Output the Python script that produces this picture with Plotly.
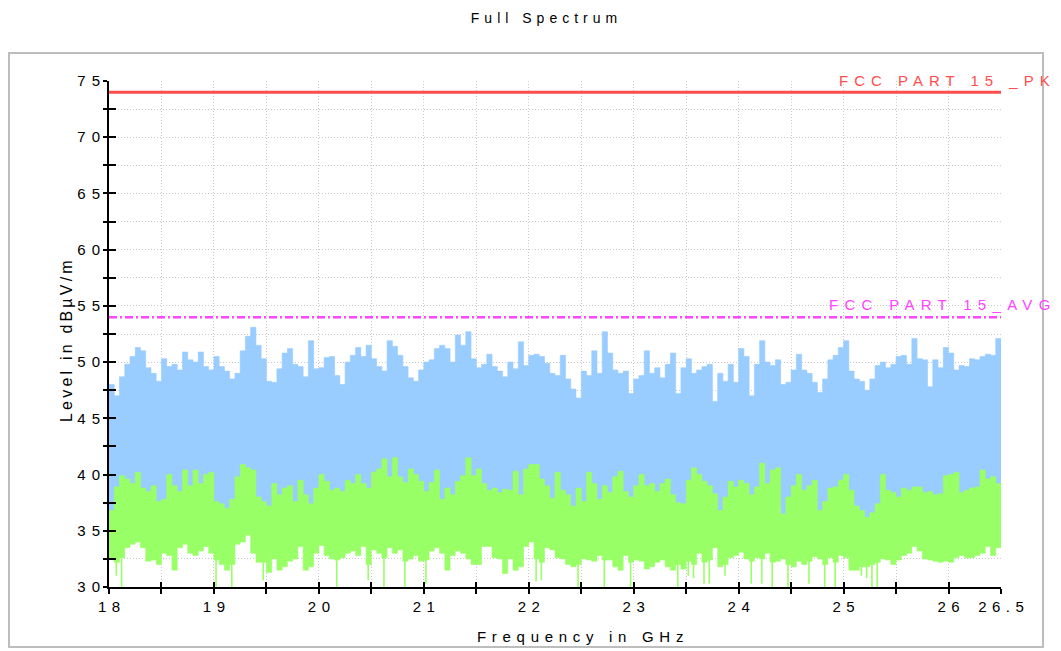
import plotly.graph_objects as go

# ---------------- data ----------------
f_start = 18.0      # GHz
f_stop = 26.5       # GHz
bin_step = 0.05     # GHz per trace sample (read-off resolution)

pk_limit = 74.0
avg_limit = 54.0
pk_label = "FCC PART 15 _PK"
avg_label = "FCC PART 15_AVG"
title_text = "Full Spectrum"
x_title = "Frequency in GHz"
y_title = "Level in dBµV/m"

x_tick_vals = [18, 19, 20, 21, 22, 23, 24, 25, 26, 26.5]
x_tick_text = ["18", "19", "20", "21", "22", "23", "24", "25", "26", "26.5"]
y_tick_vals = [30, 35, 40, 45, 50, 55, 60, 65, 70, 75]
y_tick_text = ["30", "35", "40", "45", "50", "55", "60", "65", "70", "75"]

# peak detector trace (blue) - upper envelope per bin, dBuV/m
blue_hi = [
    48.0, 47.0, 48.7, 49.8, 50.5, 51.3, 51.0, 49.5, 49.0, 48.3,
    50.3, 49.6, 49.8, 49.3, 50.9, 50.2, 50.0, 50.9, 49.6, 49.3,
    50.5, 49.6, 49.2, 48.5, 49.0, 51.0, 52.3, 53.1, 51.5, 50.3,
    48.3, 48.2, 49.4, 50.8, 51.2, 49.8, 49.6, 48.7, 51.9, 49.4,
    49.5, 50.4, 50.5, 48.8, 48.0, 50.0, 50.6, 51.3, 50.5, 51.5,
    50.3, 49.6, 49.2, 51.9, 51.4, 50.6, 49.6, 48.6, 48.3, 49.3,
    50.0, 50.2, 51.2, 51.5, 51.2, 50.0, 52.4, 51.5, 52.7, 50.3,
    49.5, 49.8, 50.7, 49.6, 49.2, 48.7, 50.0, 49.4, 51.8, 49.7,
    50.6, 50.7, 50.5, 49.9, 49.0, 48.8, 50.6, 48.5, 47.6, 46.8,
    49.2, 48.8, 51.0, 49.0, 52.7, 50.8, 49.3, 49.0, 49.2, 47.2,
    48.5, 48.8, 51.0, 49.0, 49.5, 48.6, 49.8, 50.8, 47.2, 49.5,
    50.3, 49.0, 49.3, 49.6, 49.8, 46.5, 49.0, 48.3, 49.8, 48.2,
    51.2, 50.5, 47.0, 49.8, 51.9, 50.0, 49.7, 50.2, 48.0, 48.2,
    49.3, 50.7, 49.3, 49.0, 48.2, 47.3, 48.5, 50.2, 50.6, 51.3,
    51.9, 49.2, 48.5, 48.3, 47.5, 48.5, 49.7, 50.0, 49.5, 49.8,
    50.5, 50.6, 49.8, 52.1, 50.3, 50.2, 47.8, 50.2, 49.5, 51.3,
    50.8, 49.3, 49.7, 49.6, 50.3, 50.2, 50.5, 50.7, 50.6, 52.1,
]
# peak detector trace (blue) - lower envelope per bin
blue_lo = [
    36.5, 36.8, 37.0, 36.6, 37.2, 37.0, 36.8, 36.5, 36.9, 36.4,
    36.8, 37.0, 36.6, 36.8, 37.2, 36.9, 37.0, 36.7, 37.1, 36.8,
    36.5, 36.4, 36.0, 35.5, 36.8, 37.2, 37.0, 36.9, 36.6, 36.3,
    36.2, 36.8, 36.5, 36.7, 36.9, 36.4, 37.0, 36.6, 36.3, 36.8,
    37.0, 36.9, 36.6, 36.5, 36.7, 37.0, 36.8, 37.0, 36.9, 36.5,
    37.1, 36.2, 36.8, 37.0, 37.2, 36.9, 37.0, 37.1, 36.8, 36.7,
    36.6, 36.9, 37.0, 36.5, 36.7, 36.6, 36.9, 37.0, 37.2, 36.8,
    37.0, 36.9, 36.7, 36.6, 36.5, 36.6, 36.7, 36.8, 36.4, 37.0,
    37.2, 36.5, 36.8, 36.9, 36.3, 36.9, 36.6, 36.5, 36.2, 36.6,
    36.4, 36.9, 36.8, 36.3, 36.6, 36.5, 36.8, 37.0, 36.6, 36.0,
    36.7, 36.9, 36.7, 36.8, 36.6, 36.8, 36.9, 36.5, 36.0, 36.2,
    36.8, 37.0, 36.9, 36.4, 36.5, 36.2, 35.8, 36.4, 36.8, 36.7,
    36.9, 36.8, 36.3, 36.7, 37.0, 36.8, 36.9, 37.0, 35.8, 36.4,
    36.7, 36.9, 36.6, 36.7, 36.8, 35.8, 36.2, 36.6, 36.7, 36.9,
    37.0, 36.6, 36.2, 35.8, 35.6, 35.8, 36.2, 36.9, 36.6, 36.5,
    36.4, 36.7, 36.6, 36.8, 36.8, 36.5, 36.6, 36.4, 36.5, 36.9,
    37.0, 37.0, 36.6, 36.6, 36.7, 36.8, 37.0, 36.9, 36.9, 36.8,
]
# average detector trace (green) - upper envelope per bin
green_hi = [
    36.8, 38.9, 39.9, 39.6, 39.2, 40.2, 38.8, 38.5, 39.0, 37.6,
    37.8, 40.0, 39.0, 38.5, 40.4, 39.0, 40.4, 39.2, 40.0, 40.2,
    37.6, 37.4, 37.0, 37.8, 39.8, 40.9, 40.6, 40.4, 38.0, 37.6,
    37.2, 39.2, 38.2, 38.8, 39.0, 37.6, 39.5, 38.2, 37.4, 38.8,
    40.0, 39.4, 38.6, 38.8, 38.5, 39.5, 39.2, 40.0, 39.2, 38.8,
    40.2, 40.5, 41.4, 39.8, 41.5, 39.8, 39.3, 40.5, 40.0, 39.4,
    38.5, 39.3, 40.4, 37.8, 38.8, 38.2, 39.4, 39.9, 41.5, 39.9,
    40.5, 39.2, 38.6, 38.8, 38.4, 38.7, 38.6, 40.3, 38.2, 40.5,
    40.9, 40.9, 39.6, 39.0, 37.9, 40.2, 38.6, 38.2, 37.2, 38.8,
    37.6, 40.2, 39.2, 37.8, 39.0, 38.4, 39.8, 40.3, 38.5, 38.0,
    39.0, 40.0, 39.0, 39.2, 38.5, 39.2, 39.6, 38.2, 37.5, 37.4,
    39.5, 40.6, 40.0, 39.4, 39.0, 38.3, 36.8, 38.0, 39.4, 38.9,
    39.5, 39.2, 38.2, 38.9, 41.0, 39.2, 40.4, 40.6, 36.5, 38.0,
    39.0, 40.0, 38.6, 39.0, 39.5, 36.8, 37.6, 38.8, 38.9, 39.5,
    40.0, 38.6, 37.2, 36.8, 36.2, 36.6, 37.4, 40.0, 38.6, 38.4,
    38.0, 38.8, 38.6, 38.9, 38.9, 38.4, 38.5, 38.2, 38.3, 39.9,
    40.0, 40.2, 38.4, 38.6, 38.8, 38.9, 40.4, 39.6, 39.8, 39.2,
]
# average detector trace (green) - lower edge of the dense band per bin
green_lo = [
    32.5, 32.2, 32.6, 33.5, 33.8, 34.0, 33.5, 32.3, 32.4, 32.0,
    33.0, 32.8, 31.5, 33.5, 33.8, 33.0, 32.8, 33.2, 33.6, 33.0,
    32.4, 32.0, 31.5, 32.0, 33.8, 34.0, 34.6, 33.0, 32.2, 32.2,
    31.3, 32.5, 31.5, 31.8, 32.3, 32.5, 33.6, 31.5, 31.8, 33.0,
    33.7, 32.8, 32.5, 32.4, 32.6, 33.0, 33.2, 32.8, 33.6, 32.0,
    33.3, 33.0, 32.6, 33.5, 33.0, 33.3, 32.3, 32.5, 32.8, 32.3,
    32.4, 33.2, 33.5, 33.0, 31.5, 32.8, 33.2, 33.0, 32.5, 32.0,
    32.0, 33.6, 33.6, 32.6, 32.5, 31.2, 32.5, 31.5, 31.8, 33.6,
    34.0, 32.5, 32.2, 33.5, 33.3, 32.6, 32.5, 32.0, 31.8, 32.0,
    32.5, 32.4, 32.3, 32.8, 32.4, 32.4, 31.8, 31.5, 32.8, 32.2,
    32.4, 32.3, 31.6, 31.8, 32.2, 32.4, 31.8, 31.5, 32.0, 31.6,
    32.3, 32.0, 33.0, 32.2, 32.4, 33.5, 31.8, 32.0, 32.6, 32.8,
    33.1, 32.5, 32.3, 32.6, 32.5, 33.0, 32.2, 32.3, 32.5, 32.0,
    31.8, 32.3, 32.0, 32.3, 32.7, 32.5, 32.0, 32.6, 32.2, 32.8,
    32.6, 31.5, 31.5, 31.8, 31.8, 32.0, 32.2, 32.5, 32.4, 32.0,
    32.4, 32.8, 33.0, 33.6, 33.2, 32.5, 32.4, 32.3, 32.2, 32.3,
    32.2, 32.6, 32.8, 32.6, 32.6, 32.8, 33.0, 33.6, 32.8, 33.5,
]
# narrow downward spikes of the green trace (frequency GHz, level dBuV/m)
green_spike_f = [18.07, 18.12, 19.02, 19.17, 19.47, 20.17, 20.47, 20.62, 20.82, 21.02,
                 22.07, 22.12, 22.47, 22.72, 22.97, 23.42, 23.52, 23.57, 23.67, 23.72,
                 23.87, 24.12, 24.22, 24.32, 24.47, 24.67, 24.82, 24.92, 25.17, 25.22,
                 25.27, 25.32]
green_spike_lo = [31.0, 30.0, 30.0, 30.0, 30.6, 30.0, 30.6, 30.0, 30.0, 30.3,
                  30.5, 30.6, 30.0, 30.0, 30.0, 30.0, 31.0, 30.8, 30.3, 30.3,
                  31.0, 30.3, 30.3, 30.0, 30.0, 30.3, 30.0, 30.0, 31.0, 30.8,
                  30.0, 30.0]

# ---------------- styling ----------------
BLUE = "#99ccff"
GREEN = "#99ff66"
RED = "#ff4d4d"
MAGENTA = "#ff44ff"
GRID = "#c8c8c8"
GRID_DASH = "1px,2px"
FONT = "Liberation Sans, Arial, sans-serif"


def spaced(text, px):
    """letter-spaced text; the string itself is unchanged"""
    return '<span style="letter-spacing:%spx">%s</span>%s' % (px, text[:-1], text[-1])


n = len(blue_hi)
edges = [f_start + i * bin_step for i in range(n)] + [f_stop]


def stepped(vals):
    return list(vals) + [vals[-1]]


fig = go.Figure()

# blue (peak) band
fig.add_trace(go.Scatter(x=edges, y=stepped(blue_lo), mode="lines", line=dict(width=0, shape="hv"),
                         hoverinfo="skip", showlegend=False))
fig.add_trace(go.Scatter(x=edges, y=stepped(blue_hi), mode="lines", line=dict(width=0.6, shape="hv", color=BLUE),
                         fill="tonexty", fillcolor=BLUE, hoverinfo="skip", showlegend=False))
# green (average) band
fig.add_trace(go.Scatter(x=edges, y=stepped(green_lo), mode="lines", line=dict(width=0.6, shape="hv", color=GREEN),
                         hoverinfo="skip", showlegend=False))
fig.add_trace(go.Scatter(x=edges, y=stepped(green_hi), mode="lines", line=dict(width=0.6, shape="hv", color=GREEN),
                         fill="tonexty", fillcolor=GREEN, hoverinfo="skip", showlegend=False))
# green narrow spikes
sx, sy = [], []
for f, lo in zip(green_spike_f, green_spike_lo):
    sx += [f, f, None]
    sy += [lo, 33.0, None]
fig.add_trace(go.Scatter(x=sx, y=sy, mode="lines", line=dict(width=1.6, color=GREEN),
                         hoverinfo="skip", showlegend=False))

# limit lines (on overlay axes that carry the inner tick marks)
fig.add_trace(go.Scatter(x=[f_start, f_stop], y=[pk_limit, pk_limit], mode="lines",
                         line=dict(color=RED, width=3), xaxis="x2", yaxis="y2",
                         hoverinfo="skip", showlegend=False))
fig.add_trace(go.Scatter(x=[f_start, f_stop], y=[avg_limit, avg_limit], mode="lines",
                         line=dict(color=MAGENTA, width=2.5, dash="8px,3px,2px,3px"), xaxis="x2", yaxis="y2",
                         hoverinfo="skip", showlegend=False))

# page offset of the figure inside the browser (default body margin)
OFF = 8
W, H = 1061, 651
L, T = 109 - OFF, 81 - OFF
R = W - (1001 - OFF)
B = H - (587 - OFF)
pw, ph = W - L - R, H - T - B


def px_x(p):  # screen pixel -> paper x
    return (p - OFF - L) / pw


def px_y(p):  # screen pixel -> paper y
    return (H - B - (p - OFF)) / ph


fig.add_annotation(text=spaced(pk_label, 6), x=px_x(944), xref="paper", xanchor="center",
                   y=pk_limit, yref="y", yanchor="bottom", yshift=1, showarrow=False,
                   font=dict(family=FONT, size=15, color=RED))
fig.add_annotation(text=spaced(avg_label, 6.3), x=px_x(939), xref="paper", xanchor="center",
                   y=avg_limit, yref="y", yanchor="bottom", yshift=2, showarrow=False,
                   font=dict(family=FONT, size=15, color=MAGENTA))
# axis titles
fig.add_annotation(text=spaced(x_title, 5.7), x=px_x(580), xref="paper", xanchor="center",
                   y=px_y(636), yref="paper", yanchor="middle", showarrow=False,
                   font=dict(family=FONT, size=15, color="black"))
fig.add_annotation(text=spaced(y_title, 3.2), x=px_x(67), xref="paper", xanchor="center",
                   y=px_y(341), yref="paper", yanchor="middle", textangle=-90, showarrow=False,
                   font=dict(family=FONT, size=16, color="black"))

# outer frame
fig.add_shape(type="rect", xref="paper", yref="paper", x0=px_x(9), x1=px_x(1043), y0=px_y(647), y1=px_y(53),
              line=dict(color="#bdbdbd", width=2), layer="below")

axis_font = dict(family=FONT, size=15, color="black")
grid_kw = dict(showgrid=True, gridcolor=GRID, griddash=GRID_DASH, gridwidth=1)

fig.update_layout(
    width=W, height=H,
    margin=dict(l=L, r=R, t=T, b=B),
    paper_bgcolor="white", plot_bgcolor="white",
    title=dict(text=spaced(title_text, 5), x=(544 - OFF) / W, xref="container", xanchor="center",
               y=1 - (18 - OFF) / H, yref="container", yanchor="middle",
               font=dict(family=FONT, size=14, color="black")),
    xaxis=dict(range=[f_start, f_stop], tickvals=x_tick_vals, ticktext=[spaced(t, 5.5) for t in x_tick_text],
               showline=True, linecolor="black", linewidth=2, mirror=False,
               ticks="outside", ticklen=5, tickwidth=2, tickcolor="black",
               minor=dict(dtick=0.5, tick0=18, ticks="outside", ticklen=5, tickwidth=2, tickcolor="black", **grid_kw),
               zeroline=False, tickfont=axis_font, **grid_kw),
    yaxis=dict(range=[30, 75], tickvals=y_tick_vals, ticktext=[spaced(t, 6) for t in y_tick_text],
               showline=True, linecolor="black", linewidth=2, mirror=False,
               ticks="outside", ticklen=4, tickwidth=2, tickcolor="black",
               minor=dict(dtick=2.5, tick0=30, ticks="outside", ticklen=4, tickwidth=2, tickcolor="black", **grid_kw),
               zeroline=False, tickfont=axis_font, **grid_kw),
    xaxis2=dict(range=[f_start, f_stop], overlaying="x", anchor="y2", side="bottom",
                tickvals=x_tick_vals, showticklabels=False, showgrid=False, zeroline=False,
                ticks="inside", ticklen=5, tickwidth=2, tickcolor="black",
                minor=dict(dtick=0.5, tick0=18, ticks="inside", ticklen=5, tickwidth=2, tickcolor="black")),
    yaxis2=dict(range=[30, 75], overlaying="y", anchor="x2", side="left",
                tickvals=y_tick_vals, showticklabels=False, showgrid=False, zeroline=False,
                ticks="inside", ticklen=7, tickwidth=2, tickcolor="black",
                minor=dict(dtick=2.5, tick0=30, ticks="inside", ticklen=7, tickwidth=2, tickcolor="black")),
)

fig.write_html("out.html")
